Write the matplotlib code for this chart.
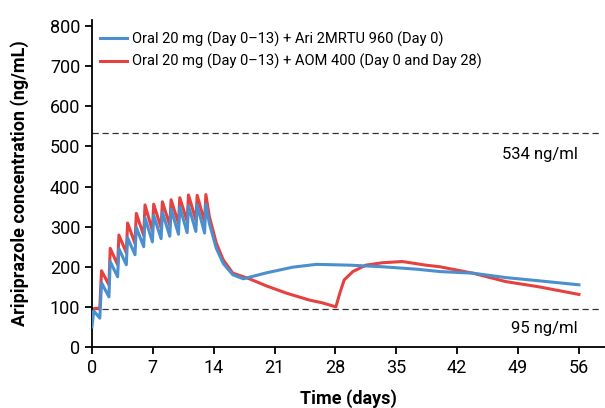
import matplotlib
matplotlib.use('Agg')
import matplotlib.pyplot as plt

plt.rcParams['font.family'] = ['Roboto', 'DejaVu Sans']

# Ari 2MRTU 960 (blue)
blue_t = [0, 0.2, 0.9, 1.1, 1.95, 2.1, 2.95, 3.1, 3.95, 4.1, 4.95, 5.1, 5.95, 6.1, 6.95,
          7.1, 7.95, 8.1, 8.95, 9.1, 9.95, 10.1, 10.95, 11.1, 11.95, 12.1, 12.95, 13.1,
          13.5, 14.3, 15.1, 16.2, 17.4, 20.1, 23.1, 25.8, 29.6, 33.4, 37.3, 40.0, 43.8,
          47.6, 51.4, 56.0]
blue_c = [50, 90, 72, 160, 125, 213, 175, 245, 205, 272, 230, 298, 250, 322, 262,
          328, 270, 336, 276, 344, 281, 349, 285, 352, 288, 354, 284, 356,
          308, 246, 208, 180, 170, 185, 199, 206, 204, 200, 194, 188, 184,
          173, 165, 155]

# AOM 400 (red)
red_t = [0, 0.9, 1.1, 1.95, 2.1, 2.95, 3.1, 3.95, 4.1, 4.95, 5.1, 5.95, 6.1, 6.95,
         7.1, 7.95, 8.1, 8.95, 9.1, 9.95, 10.1, 10.95, 11.1, 11.95, 12.1, 12.95, 13.1,
         13.5, 14.3, 15.1, 16.2, 18.1, 20.1, 22.4, 25.0, 26.5, 28.05, 28.5, 29.0, 30.0,
         31.5, 33.4, 35.7, 38.4, 40.0, 43.8, 47.6, 51.4, 56.0]
red_c = [95, 97, 190, 155, 246, 205, 279, 235, 309, 258, 333, 278, 354, 290,
         356, 297, 362, 303, 367, 308, 372, 313, 379, 316, 378, 312, 380,
         325, 259, 217, 184, 170, 152, 134, 117, 110, 100, 134, 167, 188,
         204, 210, 213, 204, 200, 184, 163, 150, 131]

labels = ['Oral 20 mg (Day 0\u201313) + Ari 2MRTU 960 (Day 0)',
          'Oral 20 mg (Day 0\u201313) + AOM 400 (Day 0 and Day 28)']
thresholds = [534, 95]
threshold_text = ['534 ng/ml', '95 ng/ml']
xticks = [0, 7, 14, 21, 28, 35, 42, 49, 56]
yticks = [0, 100, 200, 300, 400, 500, 600, 700, 800]

fig = plt.figure(figsize=(6.05, 4.08), dpi=100)
ax = fig.add_axes([0.152, 0.1495, 0.848, 0.8015])

ax.plot(blue_t, blue_c, color='#4c8fce', lw=2.2, label=labels[0], zorder=3)
ax.plot(red_t, red_c, color='#e5413f', lw=2.2, label=labels[1], zorder=2)

for v in thresholds:
    ax.axhline(v, xmin=0, xmax=0.99, color='#333333', lw=0.9, ls=(0, (5, 3)), zorder=1)
ax.text(55.9, 479, threshold_text[0], ha='right', va='center', fontsize=12)
ax.text(55.8, 47, threshold_text[1], ha='right', va='center', fontsize=12)

ax.set_xlim(0, 59)
ax.set_ylim(0, 815)
ax.set_xticks(xticks)
ax.set_yticks(yticks)
ax.tick_params(labelsize=13, length=5, width=1.3, direction='out')
for s in ['top', 'right']:
    ax.spines[s].set_visible(False)
for s in ['left', 'bottom']:
    ax.spines[s].set_linewidth(1.3)

ax.set_xlabel('Time (days)', fontsize=13, fontweight='bold', labelpad=9)
ax.set_ylabel('Aripiprazole concentration (ng/mL)', fontsize=13, fontweight='bold', labelpad=15)

ax.legend(loc='upper left', bbox_to_anchor=(-0.005, 0.997), frameon=False, fontsize=10.5,
          handlelength=1.9, handletextpad=0.35, labelspacing=0.5, borderpad=0.2)

fig.savefig('out.png', dpi=100)
